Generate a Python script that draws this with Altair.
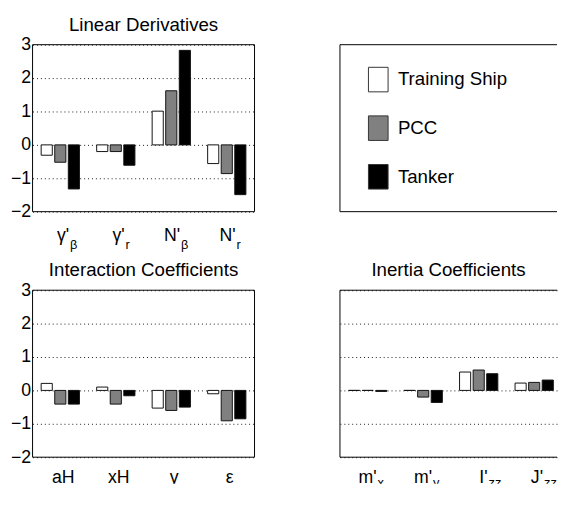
import altair as alt
import pandas as pd

series = ["Training Ship", "PCC", "Tanker"]
fills = ["#ffffff", "#808080", "#000000"]

lin_keys = ["gb", "gr", "Nb", "Nr"]
lin_main = ["γ'", "γ'", "N'", "N'"]
lin_sub = ["β", "r", "β", "r"]
lin_ts = [-0.31, -0.20, 1.01, -0.56]
lin_pcc = [-0.52, -0.20, 1.62, -0.86]
lin_tanker = [-1.32, -0.61, 2.83, -1.49]

int_keys = ["aH", "xH", "gamma", "eps"]
int_main = ["aH", "xH", "γ", "ε"]
int_sub = ["", "", "", ""]
int_ts = [0.21, 0.10, -0.53, -0.10]
int_pcc = [-0.41, -0.41, -0.60, -0.91]
int_tanker = [-0.41, -0.16, -0.50, -0.85]

ine_keys = ["mx", "my", "Izz", "Jzz"]
ine_main = ["m'", "m'", "I'", "J'"]
ine_sub = ["x", "y", "zz", "zz"]
ine_ts = [0.0, 0.0, 0.55, 0.22]
ine_pcc = [0.0, -0.20, 0.61, 0.24]
ine_tanker = [-0.03, -0.36, 0.50, 0.31]

H = 170          # height of the framed data area
W = 226          # band range width of every panel
W_LEFT = 226     # view width, left column
W_RIGHT = 221    # view width, right column (runs to the page edge)
FONT = "Liberation Sans"
color_scale = alt.Scale(domain=series, range=fills)
one = pd.DataFrame({"a": [0]})


def title_params(text, offset):
    return alt.TitleParams(text, fontSize=19, font=FONT, fontWeight="normal",
                           color="#000", offset=offset, anchor="middle")


def frame(width, right):
    base = alt.Chart(one).mark_rule(color="#000", strokeWidth=1)
    parts = [
        base.encode(y=alt.value(0)),
        base.encode(y=alt.value(H)),
        base.encode(x=alt.value(0), y=alt.value(0), y2=alt.value(H)),
    ]
    if right:
        parts.append(base.encode(x=alt.value(width), y=alt.value(0), y2=alt.value(H)))
    return parts


def panel(title, keys, mains, subs, ts, pcc, tk, left, bottom, toff):
    rows = []
    for i, k in enumerate(keys):
        for s, vals in zip(series, [ts, pcc, tk]):
            rows.append({"key": k, "series": s, "value": vals[i]})
    bars_df = pd.DataFrame(rows)
    lab_df = pd.DataFrame({"key": keys, "main": mains, "sub": subs})
    width = W_LEFT if left else W_RIGHT
    view_h = 197 if bottom else H
    main_y = H + (26 if bottom else 30)
    sub_y = H + (30 if bottom else 38)
    xenc = alt.X("key:N", scale=alt.Scale(domain=keys, paddingInner=0, paddingOuter=0,
                                          range=[0, W]), axis=None)
    ext = 24 if left else 0
    yaxis = alt.Axis(values=[-2, -1, 0, 1, 2, 3], grid=True, gridDash=[1, 3], gridColor="#000",
                     gridOpacity=0.9, ticks=False, domain=False, labels=left,
                     labelFontSize=18, labelFont=FONT, labelColor="#000", labelPadding=2,
                     minExtent=ext, maxExtent=ext, title="")
    bars = alt.Chart(bars_df).mark_bar(stroke="#111", strokeWidth=1).encode(
        x=xenc,
        xOffset=alt.XOffset("series:N", scale=alt.Scale(domain=series, paddingInner=0.18,
                                                         paddingOuter=0.635)),
        y=alt.Y("value:Q", scale=alt.Scale(domain=[-2, 3], nice=False, range=[H, 0]),
                axis=yaxis, stack=None),
        color=alt.Color("series:N", scale=color_scale, legend=None),
    )
    base = alt.Chart(lab_df)
    main_sub = base.transform_filter("datum.sub != ''").mark_text(
        align="right", baseline="alphabetic", dx=9, font=FONT, fontSize=18, color="#000",
        clip=bottom
    ).encode(x=xenc, y=alt.value(main_y), text="main:N")
    main_nosub = base.transform_filter("datum.sub == ''").mark_text(
        align="center", baseline="alphabetic", dx=3, font=FONT, fontSize=18, color="#000",
        clip=bottom
    ).encode(x=xenc, y=alt.value(main_y), text="main:N")
    sub = base.transform_filter("datum.sub != ''").mark_text(
        align="left", baseline="alphabetic", dx=10, font=FONT, fontSize=13, color="#000",
        clip=bottom
    ).encode(x=xenc, y=alt.value(sub_y), text="sub:N")
    return alt.layer(bars, *frame(width, left), main_sub, main_nosub, sub).properties(
        width=width, height=view_h, title=title_params(title, toff))


p1 = panel("Linear Derivatives", lin_keys, lin_main, lin_sub, lin_ts, lin_pcc, lin_tanker,
           True, False, 1)
p3 = panel("Interaction Coefficients", int_keys, int_main, int_sub, int_ts, int_pcc,
           int_tanker, True, True, 1)
p4 = panel("Inertia Coefficients", ine_keys, ine_main, ine_sub, ine_ts, ine_pcc, ine_tanker,
           False, True, 10)

leg_df = pd.DataFrame({"series": series})
ys = alt.Y("series:N", scale=alt.Scale(domain=series, paddingInner=0.495, paddingOuter=0.465),
           axis=None)
swatch = alt.Chart(leg_df).mark_rect(stroke="#333", strokeWidth=1).encode(
    x=alt.value(29), x2=alt.value(49), y=ys,
    color=alt.Color("series:N", scale=color_scale, legend=None))
leg_text = alt.Chart(leg_df).mark_text(align="left", baseline="middle", font=FONT,
                                       fontSize=19, color="#000").encode(
    x=alt.value(59), y=ys, text="series:N")
legend = alt.layer(swatch, leg_text, *frame(W_RIGHT, False)).properties(
    width=W_RIGHT, height=H, title=title_params(" ", 10))

chart = alt.vconcat(
    alt.hconcat(p1, legend, spacing=85),
    alt.hconcat(p3, p4, spacing=85),
    spacing=9,
).properties(padding={"left": 1, "top": 3, "right": 0, "bottom": 0}, background="white"
).configure_view(strokeOpacity=0, strokeWidth=0)

chart.save("out.html", embed_options={"renderer": "svg", "actions": False})
